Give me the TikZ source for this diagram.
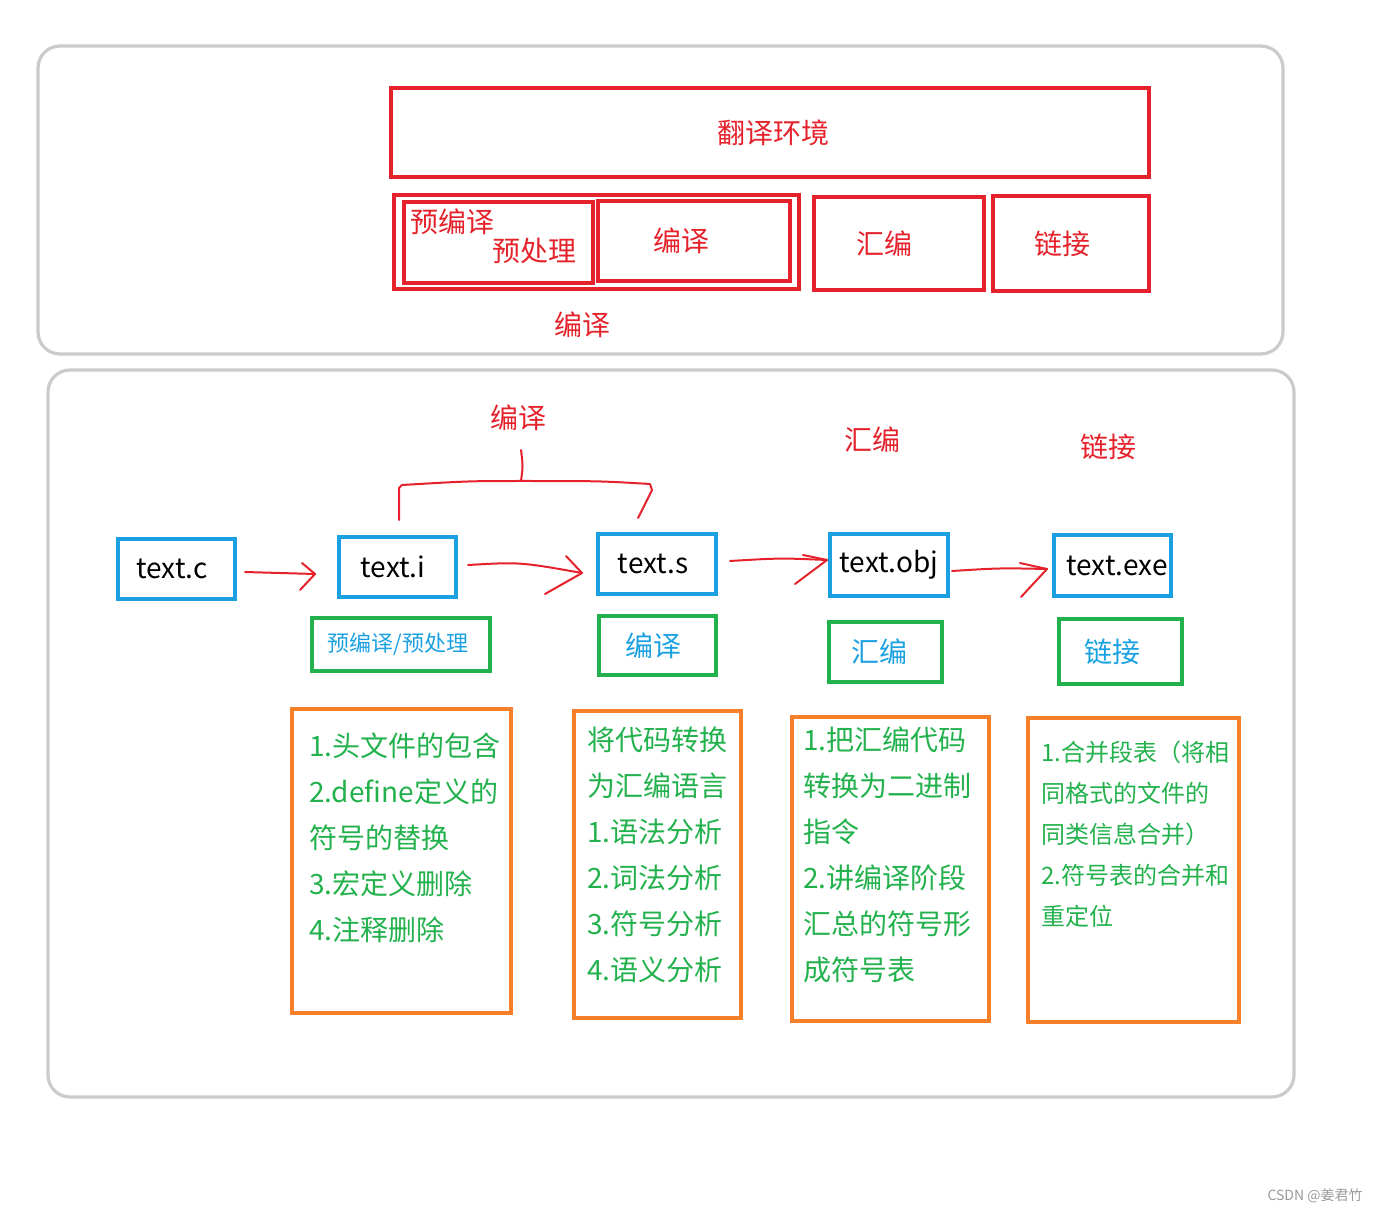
\documentclass[tikz,border=0pt]{standalone}
\usepackage{fontspec}
\setmainfont{Noto Sans CJK SC}
\usetikzlibrary{calc}
\definecolor{pred}{HTML}{E5222B}
\definecolor{pblue}{HTML}{1BA1E2}
\definecolor{pgreen}{HTML}{22B14C}
\definecolor{porange}{HTML}{F6802A}
\definecolor{pgray}{HTML}{CBCBCB}
\tikzset{
  wh/.style 2 args={minimum width=#1, minimum height=#2},
  graybox/.style={draw=pgray, line width=1.6pt, rounded corners=11pt},
  redbox/.style={draw=pred, line width=2.3pt, text=pred, font=\fontsize{14}{17}\selectfont},
  bluebox/.style={draw=pblue, line width=2.2pt, text=black, font=\fontsize{14}{17}\selectfont},
  greenbox/.style={draw=pgreen, line width=2.2pt, text=pblue, font=\fontsize{14}{17}\selectfont},
  orangebox/.style={draw=porange, line width=2.2pt},
  redlabel/.style={text=pred, font=\fontsize{14}{17}\selectfont},
  boxtext/.style={text=pgreen, align=left, anchor=west, font=\fontsize{14}{23}\selectfont},
  hand/.style={draw=pred, line width=1pt, line cap=round, line join=round}
}
\begin{document}
\begin{tikzpicture}[x=0.5pt,y=-0.5pt, every node/.style={inner sep=0pt, outer sep=0pt}]
\useasboundingbox (0,0) rectangle (1380,1213);

% outer gray frames
\node[graybox, wh={622.5pt}{154pt}] (frameA) at (660.5,200) {};
\node[graybox, wh={623pt}{363.5pt}] (frameB) at (671,733.5) {};

% top: translation environment
\node[redbox, wh={379pt}{44.5pt}] (env) at (770,132.5) {\hspace*{3pt}翻译环境};
\node[redbox, wh={202.5pt}{47pt}] (bigcomp) at (596.5,242) {};
\node[redbox, wh={94.5pt}{40.5pt}] (pre) at (498.5,242.5) {};
\node[redlabel] (preA) at (452,222) {预编译};
\node[redlabel] (preB) at (534,251) {预处理};
\node[redbox, wh={96pt}{40pt}] (comp) at (694,241) {\hspace*{-13pt}编译};
\node[redbox, wh={85pt}{46.5pt}] (asm) at (899,243.5) {\hspace*{-15pt}汇编};
\node[redbox, wh={78pt}{47.5pt}] (link) at (1071,243.5) {\hspace*{-9pt}链接};
\node[redlabel] (complab) at (582,325) {编译};

% bottom: stage labels
\node[redlabel] (lcomp) at (518,418) {编译};
\node[redlabel] (lasm) at (872,440) {汇编};
\node[redlabel] (llink) at (1108,447) {链接};

% files
\node[bluebox, wh={58.5pt}{30pt}] (tc) at (176.5,569) {\hspace*{-4.5pt}text.c};
\node[bluebox, wh={58.5pt}{30pt}] (ti) at (397.5,567) {\hspace*{-4.5pt}\raisebox{-1.5pt}{text.i}};
\node[bluebox, wh={59pt}{30pt}] (ts) at (657,564) {\hspace*{-4pt}\raisebox{-2pt}{text.s}};
\node[bluebox, wh={59pt}{31pt}] (tobj) at (889,565) {text.obj};
\node[bluebox, wh={58.5pt}{30.5pt}] (texe) at (1112.5,565.5) {\hspace*{4.5pt}\raisebox{-1.5pt}{text.exe}};

% bracket over text.i .. text.s
\coordinate (bl) at ($(ti.north)+(1.5,-17)$);
\coordinate (br) at ($(ts.north)+(-19,-16)$);
\draw[hand] (bl) -- ++(0,-32) -- ++(3,-3) .. controls (470,481) .. (521,481)
  .. controls (600,481) .. (650,484) -- ++(2,6) -- (br);
\draw[hand] (521,481) .. controls (523,466) .. (521,450);

% arrows
\coordinate (a1) at ($(ti.west)+(-24,7)$);
\draw[hand] ($(tc.east)+(10,3)$) -- (a1);
\draw[hand] ($(a1)+(-13,-11)$) -- (a1) -- ($(a1)+(-15,16)$);

\coordinate (a2) at ($(ts.west)+(-16,9)$);
\draw[hand] ($(ti.east)+(12,-2)$) .. controls (520,562) .. (a2);
\draw[hand] ($(a2)+(-16,-17)$) -- (a2) -- ($(a2)+(-37,21)$);

\coordinate (a3) at ($(tobj.west)+(-3,-5)$);
\draw[hand] ($(ts.east)+(14,-3)$) .. controls (780,558) .. (a3);
\draw[hand] ($(a3)+(-24,-5)$) -- (a3) -- ($(a3)+(-32,24)$);

\coordinate (a4) at ($(texe.west)+(-7,3.5)$);
\draw[hand] ($(tobj.east)+(4,6)$) .. controls (1000,568) .. (a4);
\draw[hand] ($(a4)+(-27,-6)$) -- (a4) -- ($(a4)+(-26,28)$);

% green stage boxes
\node[greenbox, wh={89pt}{26.5pt}, font=\fontsize{11}{13}\selectfont] (gpre) at (401,644.5) {\hspace*{-3pt}预编译/预处理};
\node[greenbox, wh={58.5pt}{29.5pt}] (gcomp) at (657.5,645.5) {\hspace*{-4.5pt}编译};
\node[greenbox, wh={56.5pt}{30pt}] (gasm) at (885.5,652) {\hspace*{-6.5pt}汇编};
\node[greenbox, wh={61.5pt}{32.5pt}] (glink) at (1120.5,651.5) {\hspace*{-8.5pt}链接};

% orange description boxes
\node[orangebox, wh={109.5pt}{152pt}] (o1) at (401.5,861) {};
\node[orangebox, wh={83.5pt}{153.5pt}] (o2) at (657.5,864.5) {};
\node[orangebox, wh={98.5pt}{152pt}] (o3) at (890.5,869) {};
\node[orangebox, wh={105.5pt}{152pt}] (o4) at (1133.5,870) {};

\node[boxtext] (t1) at (309,838) {1.头文件的包含\\2.define定义的\\符号的替换\\3.宏定义删除\\4.注释删除};
\node[boxtext] (t2) at (587,855) {将代码转换\\为汇编语言\\1.语法分析\\2.词法分析\\3.符号分析\\4.语义分析};
\node[boxtext] (t3) at (803,855) {1.把汇编代码\\转换为二进制\\指令\\2.讲编译阶段\\汇总的符号形\\成符号表};
\node[boxtext, font=\fontsize{12}{20.5}\selectfont] (t4) at (1041,834) {1.合并段表（将相\\同格式的文件的\\同类信息合并）\\2.符号表的合并和\\重定位};

% watermark
\node[text=gray!80, font=\fontsize{7}{8}\selectfont] (wm) at (1315,1196) {CSDN @姜君竹};
\end{tikzpicture}
\end{document}
